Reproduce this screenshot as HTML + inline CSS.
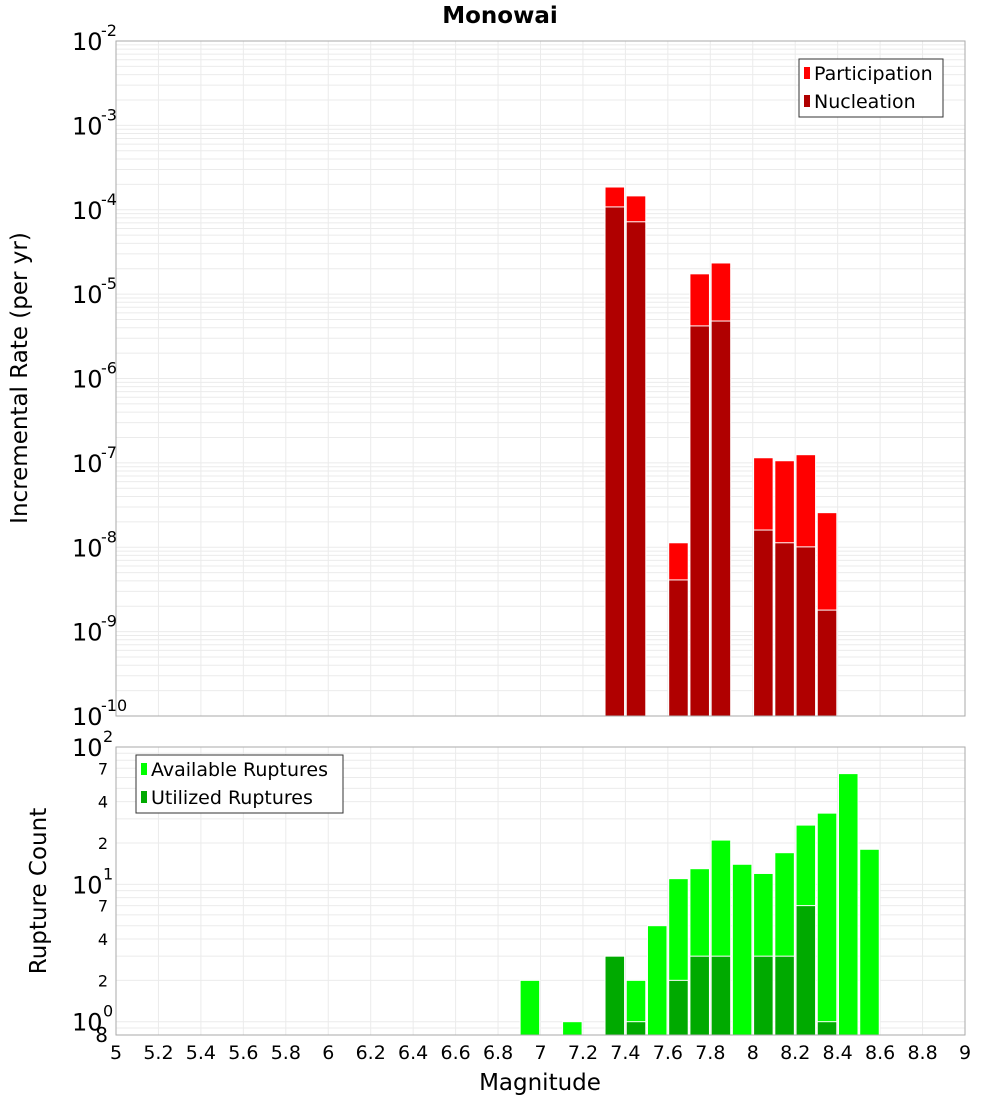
<!DOCTYPE html>
<html><head><meta charset="utf-8"><style>
body{margin:0;background:#fff;width:1000px;height:1100px;overflow:hidden;font-family:"Liberation Sans","DejaVu Sans",sans-serif}
svg text{font-family:"DejaVu Sans","Liberation Sans",sans-serif}
</style></head><body>
<svg id="c" width="1000" height="1100"></svg>
<script>
const bins=[6.95,7.15,7.35,7.45,7.55,7.65,7.75,7.85,7.95,8.05,8.15,8.25,8.35,8.45,8.55];
const partMags=[7.35,7.45,7.65,7.75,7.85,8.05,8.15,8.25,8.35];
const participation=[1.86e-4,1.46e-4,1.13e-8,1.74e-5,2.34e-5,1.15e-7,1.06e-7,1.25e-7,2.57e-8];
const nucleation=[1.08e-4,7.2e-5,4.1e-9,4.2e-6,4.8e-6,1.6e-8,1.13e-8,1.01e-8,1.8e-9];
const available=[2,1,3,2,5,11,13,21,14,12,17,27,33,64,18];
const utilized=[0,0,3,1,0,2,3,3,0,3,3,7,1,0,0];
const xTicks=[5,5.2,5.4,5.6,5.8,6,6.2,6.4,6.6,6.8,7,7.2,7.4,7.6,7.8,8,8.2,8.4,8.6,8.8,9];
const topDecades=[-2,-3,-4,-5,-6,-7,-8,-9,-10];
const botLabels=[[100,"10","2"],[70,"7"],[40,"4"],[20,"2"],[10,"10","1"],[7,"7"],[4,"4"],[2,"2"],[1,"10","0"],[0.8,"8"]];

const NS="http://www.w3.org/2000/svg";const svg=document.getElementById('c');
function el(t,a,p){const e=document.createElementNS(NS,t);for(const k in a)e.setAttribute(k,a[k]);(p||svg).appendChild(e);return e;}
const L=116,R=965;
const x=v=>L+(v-5)/4*(R-L);
const T0=41,T1=716;const yT=v=>T0+(-2-Math.log10(v))/8*(T1-T0);
const B0=747,B1=1035;const lmin=Math.log10(0.8),lmax=2;const yB=v=>B1-(Math.log10(v)-lmin)/(lmax-lmin)*(B1-B0);

let t=el('text',{x:500,y:23,'text-anchor':'middle','font-size':23,'font-weight':'bold'});t.textContent='Monowai';


const g=el('g',{});
for(let d=-10;d<-2;d++)for(let m=1;m<10;m++){const yy=yT(m*Math.pow(10,d));el('line',{x1:L,x2:R,y1:yy,y2:yy,stroke:'#ebebeb','stroke-width':1},g);}
for(let d=-1;d<2;d++)for(let m=1;m<10;m++){const v=m*Math.pow(10,d);if(v<0.8)continue;const yy=yB(v);el('line',{x1:L,x2:R,y1:yy,y2:yy,stroke:'#ebebeb','stroke-width':1},g);}
xTicks.forEach(v=>{el('line',{x1:x(v),x2:x(v),y1:T0,y2:T1,stroke:'#ebebeb'},g);el('line',{x1:x(v),x2:x(v),y1:B0,y2:B1,stroke:'#ebebeb'},g);});

const bw=(x(5.1)-x(5))*0.92;
partMags.forEach((m,i)=>{
 let r=el('rect',{x:x(m)-bw/2,y:yT(participation[i]),width:bw,height:T1-yT(participation[i]),fill:'#ff0000',stroke:'#fff','stroke-width':1});
 
 r=el('rect',{x:x(m)-bw/2,y:yT(nucleation[i]),width:bw,height:T1-yT(nucleation[i]),fill:'#b00000',stroke:'#fff','stroke-width':1});
 
});
bins.forEach((m,i)=>{
 if(available[i]>0){let r=el('rect',{x:x(m)-bw/2,y:yB(available[i]),width:bw,height:B1-yB(available[i]),fill:'#00ff00',stroke:'#fff','stroke-width':1});
 }
 if(utilized[i]>0){let r=el('rect',{x:x(m)-bw/2,y:yB(utilized[i]),width:bw,height:B1-yB(utilized[i]),fill:'#00aa00',stroke:'#fff','stroke-width':1});
 }
});
el('rect',{x:L,y:T0,width:R-L,height:T1-T0,fill:'none',stroke:'#aaa'});
el('rect',{x:L,y:B0,width:R-L,height:B1-B0,fill:'none',stroke:'#aaa'});

topDecades.forEach(d=>{const yy=yT(Math.pow(10,d));
 let tt=el('text',{x:72,y:yy+9,'font-size':24});tt.textContent='10';
 
 let s=el('text',{x:101,y:yy-5,'font-size':16});s.textContent=String(d);
});
botLabels.forEach(b=>{const yy=yB(b[0]);
 if(b.length===3){let tt=el('text',{x:72,y:yy+9,'font-size':24});tt.textContent=b[1];
  
  let s=el('text',{x:103,y:yy-5,'font-size':16});s.textContent=b[2];}
 else{let tt=el('text',{x:108,y:yy+(b[0]<1?7:6),'font-size':b[0]<1?20:16,'text-anchor':'end'});tt.textContent=b[1];
  }
});
xTicks.forEach(v=>{let tt=el('text',{x:x(v),y:1059,'font-size':19,'text-anchor':'middle'});tt.textContent=String(v);
 });
t=el('text',{x:540,y:1090,'font-size':23,'text-anchor':'middle'});t.textContent='Magnitude';

t=el('text',{x:0,y:0,'font-size':23,'text-anchor':'middle',transform:'translate(27,378) rotate(-90)'});t.textContent='Incremental Rate (per yr)';

t=el('text',{x:0,y:0,'font-size':23,'text-anchor':'middle',transform:'translate(46,891) rotate(-90)'});t.textContent='Rupture Count';


function legend(x0,y0,w,items,name){const lg=el('g',{});
 el('rect',{x:x0,y:y0,width:w,height:58,fill:'#fff',stroke:'#333','stroke-width':1},lg);
 items.forEach((it,i)=>{el('rect',{x:x0+5,y:y0+8+i*28,width:6,height:12,fill:it[1]},lg);
  let tt=el('text',{x:x0+15,y:y0+21+i*28,'font-size':19},lg);tt.textContent=it[0];});}
legend(799,59,144,[['Participation','#ff0000'],['Nucleation','#b00000']],'top-legend');
legend(136,755,207,[['Available Ruptures','#00ff00'],['Utilized Ruptures','#00aa00']],'bottom-legend');
</script>
</body></html>
